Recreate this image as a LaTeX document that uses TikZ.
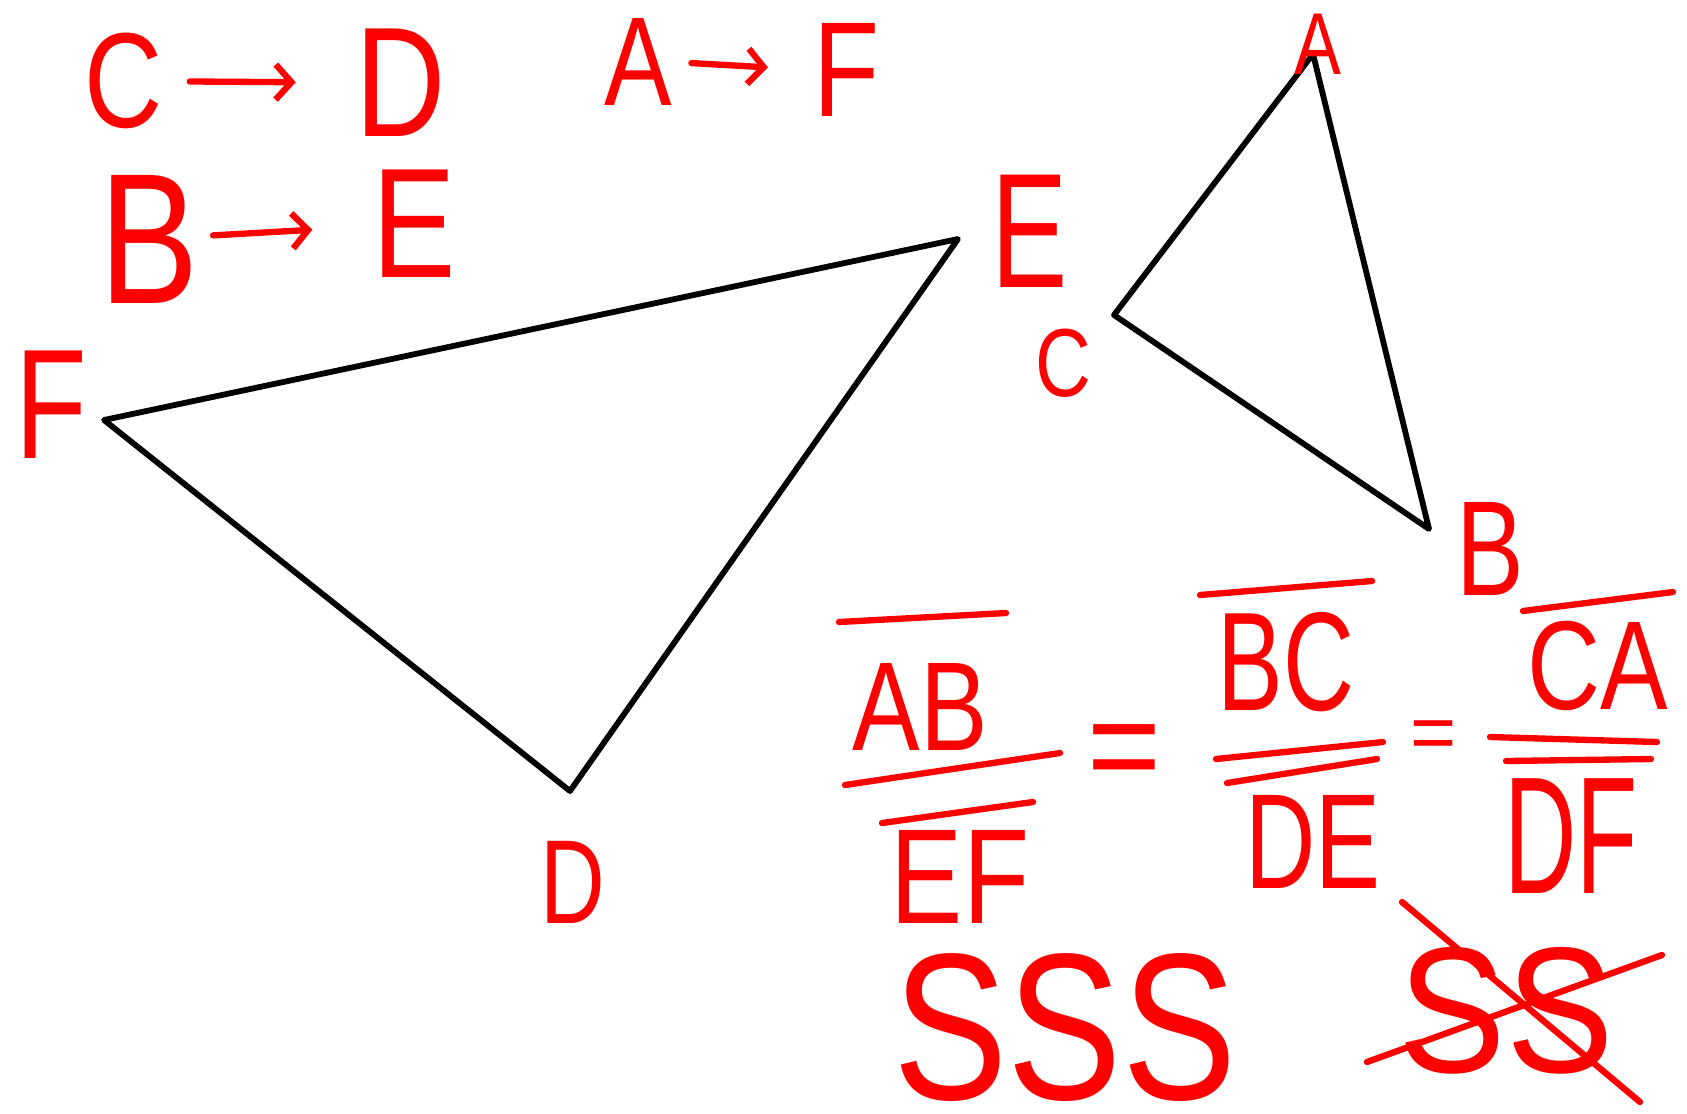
\documentclass[tikz,border=0pt]{standalone}
\usepackage{fontspec}
\setmainfont{Liberation Sans}
\usetikzlibrary{arrows.meta,positioning}

% narrow hand lettering at a given size
\newcommand{\hand}[3][0.8]{\scalebox{#1}[1]{\fontsize{#2}{#2}\selectfont #3}}

\begin{document}
\begin{tikzpicture}[x=0.02cm,y=-0.02cm,
  lbl/.style={text=red,inner sep=0pt},
  side/.style={draw=black,line width=3.3pt,line cap=round,line join=round},
  pen/.style={draw=red,line width=3.6pt,line cap=round},
  arr/.style={pen,-{Straight Barb[length=9pt,width=20pt]}},
  strike/.style={draw=red,line width=3.6pt,line cap=round}]
  \useasboundingbox (0,0) rectangle (1687,1113);
  % correspondences
  \node[lbl] (c1) at (124,81) {\hand{77}{C}};
  \node[lbl] (d1) at (401,83) {\hand{89}{D}};
  \node[lbl] (a1) at (638,62) {\hand{72}{A}};
  \node[lbl] (f1) at (847,70) {\hand{77}{F}};
  \node[lbl] (b1) at (149,239) {\hand{106}{B}};
  \node[lbl] (e1) at (414,224) {\hand{89}{E}};
  \draw[arr,shorten <=15pt,shorten >=34pt] (c1) -- (d1);
  \draw[arr,shorten <=11pt,shorten >=26pt] (a1.east) -- (f1.west);
  \draw[arr,shorten <=8pt,shorten >=34pt] (b1) -- (e1);
  % triangle DEF
  \coordinate (F) at (104,420);
  \coordinate (E) at (958,239);
  \coordinate (D) at (570,791);
  \draw[side] (F) -- (E) -- (D) -- cycle;
  % triangle ABC
  \coordinate (A) at (1313,54);
  \coordinate (C) at (1114,315);
  \coordinate (B) at (1429,529);
  \draw[side] (A) -- (C) -- (B) -- cycle;
  % vertex labels
  \node[lbl] (lA) at (1318,44) {\hand{50}{A}};
  \node[lbl] (lE) at (1030,231) {\hand[0.7]{93}{E}};
  \node[lbl] (lF) at (51,405) {\hand[0.75]{89}{F}};
  \node[lbl] (lC) at (1063,363) {\hand{55}{C}};
  \node[lbl] (lB) at (1490,549) {\hand[0.75]{77}{B}};
  \node[lbl] (lD) at (573,882) {\hand[0.75]{68}{D}};
  % ratios
  \node[lbl] (ab) at (920,707) {\hand{72}{AB}};
  \node[lbl] (ef) at (960,877) {\hand{77}{EF}};
  \draw[pen] (839,622) -- (1006,613);
  \draw[pen] (845,785) -- (1060,753);
  \draw[pen] (882,823) -- (1033,802);
  \node[lbl] (eq1) at (1124,759) {\hand[0.9]{80}{=}};
  \node[lbl] (bc) at (1286,662) {\hand[0.7]{80}{BC}};
  \node[lbl] (de) at (1313,842) {\hand[0.72]{77}{DE}};
  \draw[pen] (1200,595) -- (1372,581);
  \draw[pen] (1216,759) -- (1383,742);
  \draw[pen] (1227,783) -- (1377,759);
  \node[lbl] (eq2) at (1434,740) {\hand[1]{45}{=}};
  \node[lbl] (ca) at (1598,666) {\hand{72}{CA}};
  \node[lbl] (df) at (1571,836) {\hand[0.6]{95}{DF}};
  \draw[pen] (1523,611) -- (1673,592);
  \draw[pen] (1490,737) -- (1657,742);
  \draw[pen] (1506,761) -- (1651,759);
  % criteria
  \node[lbl] (sss) at (1065,1028) {\hand[0.82]{119}{SSS}};
  \node[lbl] (ss) at (1506,1011) {\hand[0.9]{102}{SS}};
  \coordinate (x1) at (1402,902);
  \coordinate (x2) at (1640,1102);
  \coordinate (x3) at (1662,955);
  \coordinate (x4) at (1367,1062);
  \draw[strike] (x1) -- (x2);
  \draw[strike] (x3) -- (x4);
\end{tikzpicture}
\end{document}
